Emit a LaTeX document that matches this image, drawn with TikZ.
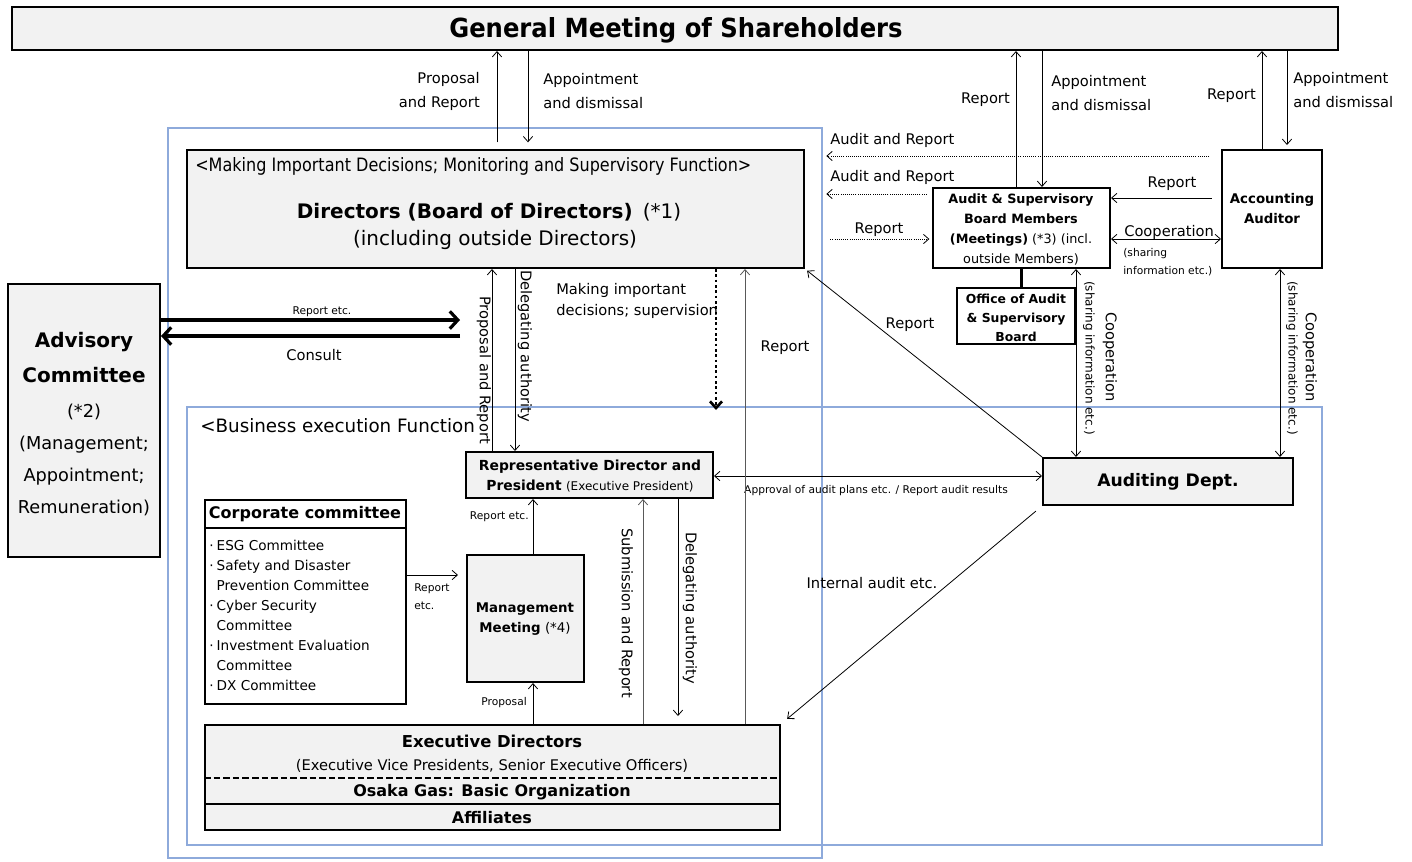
\documentclass[tikz,border=0pt]{standalone}
\usepackage{fontspec}
\setmainfont{DejaVu Sans}
\usepackage{graphicx}
\usetikzlibrary{arrows.meta,positioning,fit}
\definecolor{boxgray}{HTML}{F2F2F2}
\definecolor{frameblue}{HTML}{8EAADB}
\newcommand{\squeezed}[3]{\resizebox{#1}{#2}{#3}}

\begin{document}
\begin{tikzpicture}[%
    x=0.75pt, y=-0.75pt,%
    gbox/.style={draw, line width=1.5pt, fill=boxgray, inner sep=0pt},%
    wbox/.style={draw, line width=1.5pt, fill=white, inner sep=0pt},%
    boxtext/.style={align=center, inner sep=0pt},%
    bluebox/.style={draw=frameblue, line width=1.6pt},%
    lbl/.style={font=\fontsize{11}{18}\selectfont, inner sep=0pt},%
    smalllbl/.style={font=\fontsize{8}{13.5}\selectfont, inner sep=0pt},%
    arr/.style={-{Straight Barb[length=4pt,width=7pt]}, line width=0.6pt},%
    darr/.style={{Straight Barb[length=4pt,width=7pt]}-{Straight Barb[length=4pt,width=7pt]}, line width=0.6pt},%
    dotarr/.style={arr, densely dotted},%
    fatarr/.style={-{Straight Barb[length=6pt,width=13pt]}, line width=2.4pt},%
  ]
  \useasboundingbox (0,0) rectangle (1412,861);%
  \fill[white] (0,0) rectangle (1412,861);%

  % Coordinates
  \coordinate (xPR) at (497,0);%
  \coordinate (xAD) at (528,0);%
  \coordinate (xAR) at (1016,0);%
  \coordinate (xAA) at (1042,0);%
  \coordinate (xCR) at (1262,0);%
  \coordinate (xCA) at (1287,0);%
  \coordinate (xCoop1) at (1076,0);%
  \coordinate (xCoop2) at (1280,0);%
  \coordinate (xUp) at (492,0);%
  \coordinate (xDown) at (515,0);%
  \coordinate (xRep) at (745,0);%
  \coordinate (xMM) at (533,0);%
  \coordinate (xSub) at (643,0);%
  \coordinate (xDel) at (678,0);%
  \coordinate (yAR1) at (0,156);%
  \coordinate (yAR2) at (0,194);%
  \coordinate (yRep) at (0,198);%
  \coordinate (yCoop) at (0,239);%
  \coordinate (yRD) at (0,476);%
  \coordinate (yAdv1) at (0,320);%
  \coordinate (yAdv2) at (0,336);%
  \coordinate (yCC) at (0,575);%
  \coordinate (yHead) at (0,528);%
  \coordinate (yDash) at (0,778);%
  \coordinate (yLine) at (0,804);%
  \coordinate (advTip) at (460,320);%
  \coordinate (advTail) at (460,336);%
  \coordinate (supTip) at (716,410);%

  % Frames
  \draw[bluebox] (168,128) rectangle (822,858);%
  \draw[bluebox] (187,407) rectangle (1322,845);%

  % Nodes
  \node[gbox, fit={(12,7) (1338,50)}] (gms) {};%
  \node[boxtext] (gmstext) at (676,30) {\squeezed{340pt}{15pt}{\bfseries General Meeting of Shareholders}};%

  \node[gbox, fit={(187,150) (804,268)}] (dir) {};%
  \node[anchor=west, inner sep=0pt] (dirhead) at (195,166) {\squeezed{417pt}{10.5pt}{<Making Important Decisions; Monitoring and Supervisory Function>}};%
  \node[font=\fontsize{15}{18}\selectfont] (dirname) at (489,212) {\textbf{Directors (Board of Directors)}\hspace{0.5em}(*1)};%
  \node[font=\fontsize{15}{18}\selectfont] (dirsub) at (495,240) {(including outside Directors)};%

  \node[gbox, fit={(8,284) (160,557)}] (adv) {};%
  \node[boxtext, font=\fontsize{13.3}{24}\selectfont] (advtext) at (84,424) {\textbf{\fontsize{15}{26}\selectfont Advisory}\\[2pt] \textbf{\fontsize{15}{26}\selectfont Committee}\\[2pt] (*2)\\ (Management;\\ Appointment;\\ Remuneration)};%

  \node[wbox, fit={(933,188) (1110,268)}] (audit) {};%
  \node[boxtext, font=\fontsize{9.6}{15}\selectfont] (audittext) at (1021,229) {\textbf{Audit \& Supervisory}\\ \textbf{Board Members}\\ \textbf{(Meetings)} (*3) (incl.\\ outside Members)};%
  \node[wbox, fit={(1222,150) (1322,268)}] (acc) {};%
  \node[boxtext, font=\fontsize{10}{15}\selectfont\bfseries] (acctext) at (1272,209) {Accounting\\ Auditor};%
  \node[wbox, fit={(957,288) (1075,344)}] (office) {};%
  \node[boxtext, font=\fontsize{9.3}{14.2}\selectfont\bfseries] (officetext) at (1016,318) {Office of Audit\\ \& Supervisory\\ Board};%
  \node[gbox, fit={(1043,458) (1293,505)}] (aud) {};%
  \node[boxtext, font=\fontsize{12.9}{15}\selectfont\bfseries] (audtext) at (1168,482) {Auditing Dept.};%

  \node[anchor=west, inner sep=0pt] (bizhead) at (200,426) {\squeezed{206pt}{10.5pt}{<Business execution Function}};%

  \node[gbox, fit={(466,452) (713,498)}] (rep) {};%
  \node[boxtext, font=\fontsize{10.4}{15.5}\selectfont] (reptext) at (590,476) {\textbf{Representative Director and}\\ \textbf{President} {\fontsize{9}{12}\selectfont(Executive President)}};%
  \node[gbox, fit={(467,555) (584,682)}] (mm) {};%
  \node[boxtext, font=\fontsize{10}{15}\selectfont] (mmtext) at (525,619) {\textbf{Management}\\ \textbf{Meeting} (*4)};%

  \node[wbox, fit={(205,500) (406,704)}] (cc) {};%
  \node[font=\fontsize{12}{14}\selectfont\bfseries] (cchead) at (305,514) {Corporate committee};%
  \draw[line width=1.5pt] (cc.west |- yHead) -- (cc.east |- yHead);%
  \node[anchor=north west, align=left, inner sep=0pt, font=\fontsize{10.2}{15}\selectfont] (cclist) at (209,540) {%
    \makebox[1ex][l]{·}ESG Committee\\
    \makebox[1ex][l]{·}Safety and Disaster\\
    \hspace*{1ex}Prevention Committee\\
    \makebox[1ex][l]{·}Cyber Security\\
    \hspace*{1ex}Committee\\
    \makebox[1ex][l]{·}Investment Evaluation\\
    \hspace*{1ex}Committee\\
    \makebox[1ex][l]{·}DX Committee};%

  \node[gbox, fit={(205,725) (780,830)}] (exec) {};%
  \node[font=\fontsize{12.3}{14}\selectfont\bfseries] (exname) at (492,741) {Executive Directors};%
  \node[font=\fontsize{11}{14}\selectfont] (exsub) at (492,766) {(Executive Vice Presidents, Senior Executive Officers)};%
  \draw[dash pattern=on 5pt off 2.2pt, line width=1.2pt] (exec.west |- yDash) -- (exec.east |- yDash);%
  \node[font=\fontsize{12}{14}\selectfont\bfseries] (exorg) at (492,792) {Osaka Gas: Basic Organization};%
  \draw[line width=0.8pt] (exec.west |- yLine) -- (exec.east |- yLine);%
  \node[font=\fontsize{12}{14}\selectfont\bfseries] (exaff) at (492,818) {Affiliates};%

  % Lines
  \draw[arr, shorten <=5pt] (dir.north -| xPR) -- (gms.south -| xPR);%
  \draw[arr, shorten >=5pt] (gms.south -| xAD) -- (dir.north -| xAD);%
  \node[lbl, anchor=east, align=right] (lPR) at (480,91) {Proposal\\and Report};%
  \node[lbl, anchor=west, align=left] (lAD) at (543,91) {Appointment\\and dismissal};%

  \draw[arr] (audit.north -| xAR) -- (gms.south -| xAR);%
  \draw[arr] (gms.south -| xAA) -- (audit.north -| xAA);%
  \node[lbl, anchor=east] (lAR) at (1010,100) {Report};%
  \node[lbl, anchor=west, align=left] (lAA) at (1051,93) {Appointment\\and dismissal};%

  \draw[arr] (acc.north -| xCR) -- (gms.south -| xCR);%
  \draw[arr, shorten >=3pt] (gms.south -| xCA) -- (acc.north -| xCA);%
  \node[lbl, anchor=east] (lCR) at (1256,96) {Report};%
  \node[lbl, anchor=west, align=left] (lCA) at (1293,90) {Appointment\\and dismissal};%

  \draw[dotarr, shorten <=9pt, shorten >=16pt] (acc.west |- yAR1) -- (dir.east |- yAR1);%
  \draw[dotarr, shorten <=4pt, shorten >=16pt] (audit.west |- yAR2) -- (dir.east |- yAR2);%
  \draw[dotarr, shorten <=19pt, shorten >=2pt] (dir.east |- yCoop) -- (audit.west |- yCoop);%
  \node[lbl, anchor=west] (lAud1) at (830,140) {Audit and Report};%
  \node[lbl, anchor=west] (lAud2) at (830,177) {Audit and Report};%
  \node[lbl] (lDirRep) at (879,230) {Report};%

  \draw[arr, shorten <=7pt] (acc.west |- yRep) -- (audit.east |- yRep);%
  \node[lbl] (lAccRep) at (1172,184) {Report};%
  \draw[darr] (audit.east |- yCoop) -- (acc.west |- yCoop);%
  \node[lbl, anchor=west] (lCoop) at (1124,232) {Cooperation};%
  \node[smalllbl, anchor=west, align=left] (lShare) at (1123,262) {(sharing\\information etc.)};%

  \draw[line width=2.2pt] (audit.south) -- (audit.south |- office.north);%

  \draw[darr] (audit.south -| xCoop1) -- (aud.north -| xCoop1);%
  \node[lbl, rotate=-90] (lCoopA) at (1110,357) {Cooperation};%
  \node[smalllbl, rotate=-90, font=\fontsize{9}{12}\selectfont] (lShareA) at (1089,358) {(sharing information etc.)};%
  \draw[darr] (acc.south -| xCoop2) -- (aud.north -| xCoop2);%
  \node[lbl, rotate=-90] (lCoopB) at (1310,357) {Cooperation};%
  \node[smalllbl, rotate=-90, font=\fontsize{9}{12}\selectfont] (lShareB) at (1292,358) {(sharing information etc.)};%

  \draw[arr, shorten >=2pt] (aud.north west) -- (dir.south east);%
  \node[lbl] (lAudRep) at (910,325) {Report};%
  \draw[darr] (rep.east |- yRD) -- (aud.west |- yRD);%
  \node[smalllbl] (lApproval) at (876,491) {Approval of audit plans etc. / Report audit results};%
  \draw[arr, shorten <=6pt, shorten >=6pt] (aud.south west) -- (exec.north east);%
  \node[lbl] (lInternal) at (872,583) {Internal audit etc.};%

  \draw[fatarr] (adv.east |- yAdv1) -- (advTip);%
  \draw[fatarr] (advTail) -- (adv.east |- yAdv2);%
  \node[smalllbl] (lAdvRep) at (322,312) {Report etc.};%
  \node[lbl] (lConsult) at (314,355) {Consult};%

  \draw[arr] (rep.north -| xUp) -- (dir.south -| xUp);%
  \node[lbl, rotate=-90] (lUp) at (484,370) {Proposal and Report};%
  \draw[arr] (dir.south -| xDown) -- (rep.north -| xDown);%
  \node[lbl, rotate=-90] (lDown) at (525,346) {Delegating authority};%
  \draw[-{Straight Barb[length=5pt,width=9pt]}, line width=2pt, dotted] (dir.south -| supTip) -- (supTip);%
  \node[lbl, anchor=west, align=left, font=\fontsize{11}{15.75}\selectfont] (lSup) at (556,301) {Making important\\decisions; supervision};%
  \draw[arr, black!65] (exec.north -| xRep) -- (dir.south -| xRep);%
  \node[lbl] (lRep) at (785,348) {Report};%

  \draw[arr] (mm.north -| xMM) -- (rep.south -| xMM);%
  \node[smalllbl, anchor=east] (lMMRep) at (529,517) {Report etc.};%
  \draw[arr] (exec.north -| xMM) -- (mm.south -| xMM);%
  \node[smalllbl, anchor=east] (lProp) at (527,703) {Proposal};%
  \draw[arr, black!65] (exec.north -| xSub) -- (rep.south -| xSub);%
  \node[lbl, rotate=-90] (lSub) at (626,613) {Submission and Report};%
  \draw[arr, shorten >=6pt] (rep.south -| xDel) -- (exec.north -| xDel);%
  \node[lbl, rotate=-90] (lDel) at (690,608) {Delegating authority};%
  \draw[arr, shorten >=6pt] (cc.east |- yCC) -- (mm.west |- yCC);%
  \node[smalllbl, anchor=west, align=left] (lCC) at (414,597) {Report\\etc.};%
\end{tikzpicture}
\end{document}
